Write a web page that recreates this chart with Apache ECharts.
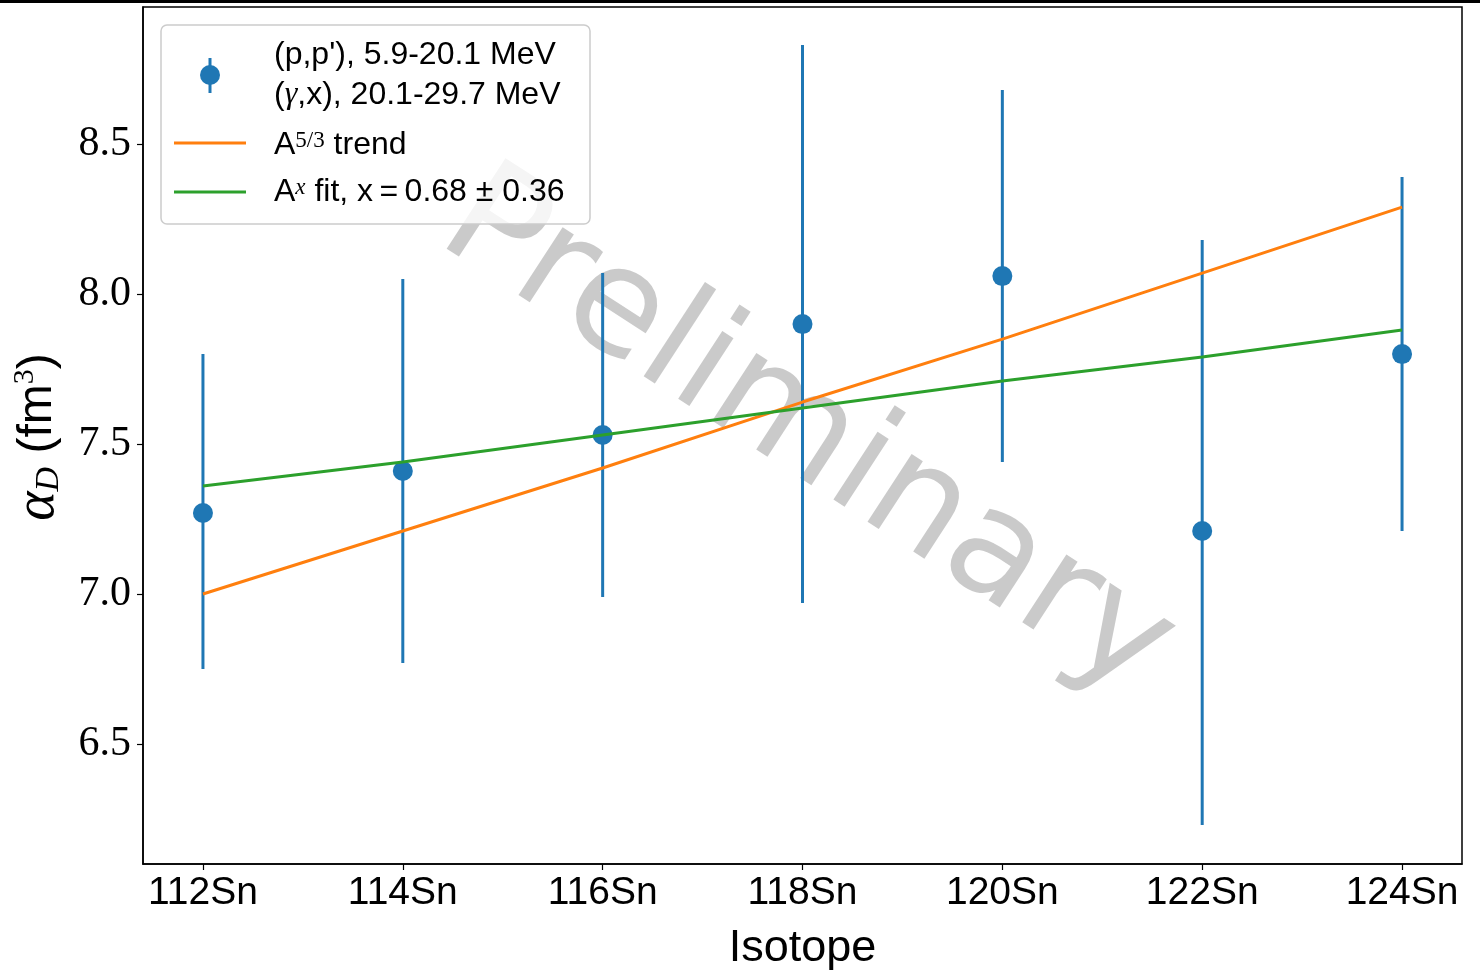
<!DOCTYPE html>
<html>
<head>
<meta charset="utf-8">
<script src="https://cdn.jsdelivr.net/npm/echarts@6/dist/echarts.min.js"></script>
<style>
html,body{margin:0;padding:0;background:#fff;}
#chart{width:1480px;height:975px;}
</style>
</head>
<body>
<div id="chart"></div>
<script>
// Data
const isotopes = [112, 114, 116, 118, 120, 122, 124];
const alphaD   = [7.27, 7.41, 7.53, 7.90, 8.06, 7.21, 7.80];
const errLow   = [6.75, 6.77, 6.99, 6.97, 7.44, 6.23, 7.21];
const errHigh  = [7.80, 8.05, 8.07, 8.83, 8.68, 8.18, 8.39];
const trend53  = [7.00, 7.21, 7.42, 7.64, 7.85, 8.07, 8.29];
const fitAx    = [7.36, 7.44, 7.53, 7.62, 7.71, 7.79, 7.88];
const yTicks   = [6.5, 7.0, 7.5, 8.0, 8.5];

const BLUE = '#1f77b4', ORANGE = '#ff7f0e', GREEN = '#2ca02c';
const SANS = '"Liberation Sans", Arial, sans-serif';
const SERIF = '"Liberation Serif", "DejaVu Serif", serif';

const chart = echarts.init(document.getElementById('chart'), null, {renderer: 'canvas'});

const errData = isotopes.map((a, i) => [a, alphaD[i], errLow[i], errHigh[i]]);

const option = {
  animation: false,
  backgroundColor: '#fff',
  grid: {left: 143, right: 18, top: 7, bottom: 111, containLabel: false, outerBoundsMode: 'none',
         show: true, borderColor: '#000', borderWidth: 1.5, backgroundColor: 'transparent'},
  xAxis: {
    type: 'value', min: 111.4, max: 124.6,
    splitLine: {show: false},
    axisLine: {show: true, onZero: false, lineStyle: {color: '#000', width: 1.5}},
    axisTick: {show: true, customValues: isotopes, length: 6, lineStyle: {color: '#000', width: 1.2}},
    axisLabel: {customValues: isotopes, formatter: v => v + 'Sn', fontSize: 39, fontFamily: SANS, color: '#000', margin: 10},
    name: 'Isotope', nameLocation: 'middle', nameGap: 62,
    nameTextStyle: {fontSize: 45, fontFamily: SANS, color: '#000'}
  },
  yAxis: {
    type: 'value', min: 6.1, max: 8.957,
    splitLine: {show: false},
    axisLine: {show: true, onZero: false, lineStyle: {color: '#000', width: 1.5}},
    axisTick: {show: true, customValues: yTicks, length: 6, lineStyle: {color: '#000', width: 1.2}},
    axisLabel: {customValues: yTicks, formatter: v => v.toFixed(1), fontSize: 42, fontFamily: SERIF, color: '#000', margin: 12}
  },
  graphic: [
    {type: 'rect', left: 0, top: 0, shape: {width: 1480, height: 3}, style: {fill: '#000'}, z: 100},
    {
      type: 'text', x: 806, y: 436, rotation: -33 * Math.PI / 180, z: 0, silent: true,
      style: {text: 'Preliminary', x: 0, y: 0, align: 'center', verticalAlign: 'middle',
              font: '148px "DejaVu Sans", sans-serif', fill: 'rgba(150,150,150,0.5)'}
    },
    {
      type: 'text', x: 38, y: 437, rotation: Math.PI / 2, z: 10,
      style: {
        text: '{a|α}{d|D}{b| (fm}{s|3}{b|)}', x: 0, y: 0, align: 'center', verticalAlign: 'middle',
        rich: {
          a: {fontSize: 56, fontFamily: SERIF, fontStyle: 'italic', fill: '#000', verticalAlign: 'middle'},
          d: {fontSize: 34, fontFamily: SERIF, fontStyle: 'italic', fill: '#000', verticalAlign: 'bottom'},
          b: {fontSize: 48, fontFamily: SANS, fill: '#000', verticalAlign: 'middle'},
          s: {fontSize: 30, fontFamily: SERIF, fill: '#000', verticalAlign: 'top'}
        }
      }
    },
    // legend
    {type: 'rect', z: 200, shape: {x: 161, y: 25, width: 429, height: 199, r: 6},
     style: {fill: 'rgba(255,255,255,0.8)', stroke: '#cccccc', lineWidth: 1.5}},
    {type: 'line', z: 201, shape: {x1: 210, y1: 58, x2: 210, y2: 93}, style: {stroke: BLUE, lineWidth: 3}},
    {type: 'circle', z: 201, shape: {cx: 210, cy: 75, r: 10}, style: {fill: BLUE}},
    {type: 'line', z: 201, shape: {x1: 174, y1: 143, x2: 246, y2: 143}, style: {stroke: ORANGE, lineWidth: 3}},
    {type: 'line', z: 201, shape: {x1: 174, y1: 192, x2: 246, y2: 192}, style: {stroke: GREEN, lineWidth: 3}},
    {type: 'text', z: 201, x: 274, y: 55, style: {text: "(p,p'), 5.9-20.1 MeV", verticalAlign: 'middle', font: '32px ' + SANS, fill: '#000'}},
    {type: 'text', z: 201, x: 274, y: 95, style: {
      text: '{n|(}{g|γ}{n|,x), 20.1-29.7 MeV}', verticalAlign: 'middle',
      rich: {n: {fontSize: 32, fontFamily: SANS, fill: '#000'}, g: {fontSize: 32, fontFamily: SERIF, fontStyle: 'italic', fill: '#000'}}}},
    {type: 'text', z: 201, x: 274, y: 145, style: {
      text: '{n|A}{s|5/3}{n| trend}', verticalAlign: 'middle',
      rich: {n: {fontSize: 32, fontFamily: SANS, fill: '#000'}, s: {fontSize: 23, fontFamily: SERIF, fill: '#000', verticalAlign: 'top'}}}},
    {type: 'text', z: 201, x: 274, y: 192, style: {
      text: '{n|A}{s|x}{n| fit, x\u2009=\u20090.68 ± 0.36}', verticalAlign: 'middle',
      rich: {n: {fontSize: 32, fontFamily: SANS, fill: '#000'}, s: {fontSize: 23, fontFamily: SERIF, fontStyle: 'italic', fill: '#000', verticalAlign: 'top'}}}}
  ],
  series: [
    {
      type: 'custom', name: 'data', z: 3,
      data: errData,
      encode: {x: 0, y: [1, 2, 3]},
      renderItem: function (params, api) {
        const x = api.value(0);
        const p = api.coord([x, api.value(1)]);
        const pl = api.coord([x, api.value(2)]);
        const ph = api.coord([x, api.value(3)]);
        return {
          type: 'group',
          children: [
            {type: 'line', shape: {x1: pl[0], y1: pl[1], x2: ph[0], y2: ph[1]}, style: {stroke: BLUE, lineWidth: 3}},
            {type: 'circle', shape: {cx: p[0], cy: p[1], r: 10}, style: {fill: BLUE}}
          ]
        };
      }
    },
    {type: 'line', name: 'A5/3', z: 4, data: isotopes.map((a, i) => [a, trend53[i]]), showSymbol: false, lineStyle: {color: ORANGE, width: 3}},
    {type: 'line', name: 'Ax', z: 4, data: isotopes.map((a, i) => [a, fitAx[i]]), showSymbol: false, lineStyle: {color: GREEN, width: 3}}
  ]
};
chart.setOption(option);
</script>
</body>
</html>
